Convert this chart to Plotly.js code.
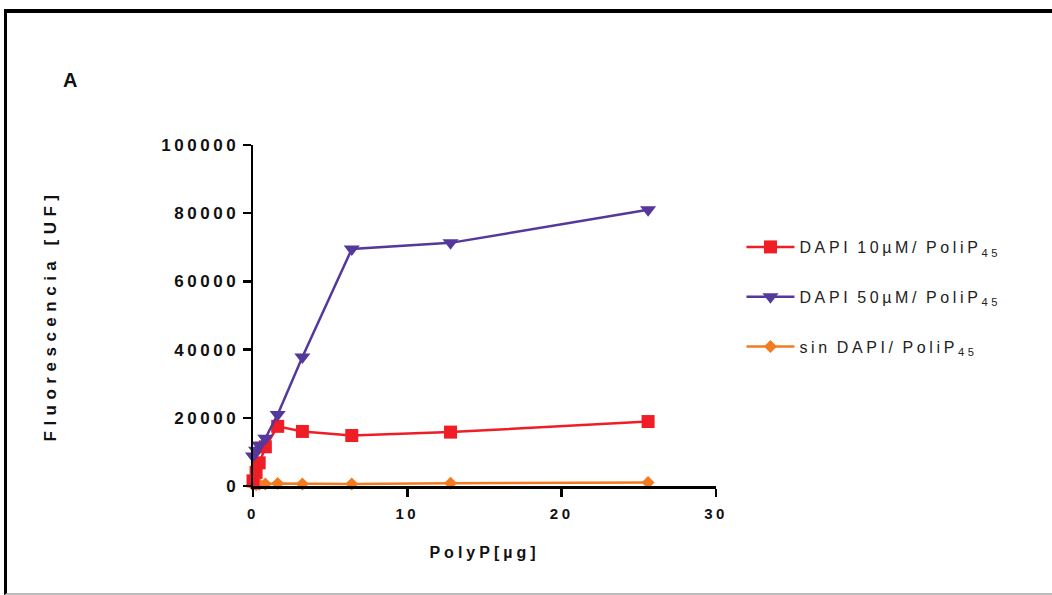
<!DOCTYPE html>
<html>
<head>
<meta charset="utf-8">
<script src="https://cdn.plot.ly/plotly-3.0.1.min.js"></script>
<style>
  html, body { margin:0; padding:0; background:#fff; }
  #wrap { position:relative; width:1052px; height:595px; overflow:hidden; }
  #chart { position:absolute; left:0; top:0; width:1052px; height:595px; }
  #frame { position:absolute; left:4px; top:9px; width:1100px; height:580px; border-top:4px solid #000; border-left:3px solid #000; border-bottom:2px solid #bbb; pointer-events:none; }
  #chart .xtick text, #chart .ytick text { letter-spacing:3.5px; }
  #chart .g-xtitle text { letter-spacing:4px; }
  #chart .g-ytitle text { letter-spacing:5.5px; }
  #chart text.legendtext { letter-spacing:3.6px; word-spacing:-2px; }
</style>
</head>
<body>
<div id="wrap">
<div id="chart"></div>
<div id="frame"></div>
</div>
<script>
const polyP = [0, 0.2, 0.4, 0.8, 1.6, 3.2, 6.4, 12.8, 25.6];
const dapi10 = [1500, 4000, 6800, 11500, 17500, 16000, 14800, 15800, 18900];
const dapi50 = [8800, 10500, 12000, 14000, 21000, 37800, 69500, 71300, 81000];
const sinDapi = [300, 400, 500, 600, 700, 600, 600, 800, 1000];
const names = ['DAPI 10µM/ PoliP<sub>45</sub>', 'DAPI 50µM/ PoliP<sub>45</sub>', 'sin DAPI/ PoliP<sub>45</sub>'];
const xTicks = [0, 10, 20, 30];
const yTicks = [0, 20000, 40000, 60000, 80000, 100000];

const font = 'Liberation Sans, Arial, sans-serif';
const traces = [
  {x: polyP, y: dapi10, name: names[0], mode: 'lines+markers', cliponaxis: false, legendgroup: 'g1', legendrank: 1,
   line: {color: '#ee1d26', width: 2.5}, marker: {symbol: 'square', size: 13, color: '#ee1d26'}},
  {x: polyP, y: dapi50, name: names[1], mode: 'lines+markers', cliponaxis: false, legendgroup: 'g2', legendrank: 2,
   line: {color: '#55389b', width: 2.5}, marker: {symbol: 'triangle-down', size: 14, color: '#55389b'}},
  {x: polyP, y: sinDapi, name: names[2], mode: 'lines+markers', cliponaxis: false, legendgroup: 'g3', legendrank: 3,
   line: {color: '#f47a22', width: 2.5}, marker: {symbol: 'diamond', size: 10, color: '#f47a22'}}
];
const order = [2, 0, 1].map(i => traces[i]);

const layout = {
  width: 1052, height: 595,
  margin: {l: 253, r: 336, t: 145, b: 109},
  paper_bgcolor: '#fff', plot_bgcolor: '#fff',
  showlegend: true,
  legend: {
    xref: 'paper', yref: 'paper', x: 1.055, xanchor: 'left', y: (486 - 230) / 341, yanchor: 'top',
    traceorder: 'grouped', tracegroupgap: 26, itemwidth: 48,
    font: {family: font, size: 16, color: '#222'}, bgcolor: 'rgba(0,0,0,0)'
  },
  xaxis: {
    range: [0, 30], tickvals: xTicks, ticktext: xTicks.map(String),
    showgrid: false, zeroline: false, showline: true, linecolor: '#000', linewidth: 2.5,
    ticks: 'outside', ticklen: 8, tickwidth: 2.5, tickcolor: '#000', ticklabelstandoff: 4,
    tickfont: {family: font, size: 15, color: '#111', weight: 'bold'},
    title: {text: 'PolyP[µg]', font: {family: font, size: 16, color: '#111', weight: 'bold'}, standoff: 27}
  },
  yaxis: {
    range: [0, 100000], tickvals: yTicks, ticktext: yTicks.map(String),
    showgrid: false, zeroline: false, showline: true, linecolor: '#000', linewidth: 2.5,
    ticks: 'outside', ticklen: 8, tickwidth: 2.5, tickcolor: '#000',
    tickfont: {family: font, size: 17, color: '#111', weight: 'bold'},
    title: {text: 'Fluorescencia [UF]', font: {family: font, size: 17, color: '#111', weight: 'bold'}, standoff: 122}
  },
  annotations: [
    {text: 'A', xref: 'paper', yref: 'paper', x: (70 - 253) / 463, y: (486 - 80) / 341, showarrow: false,
     xanchor: 'center', yanchor: 'middle', font: {family: font, size: 20, color: '#111', weight: 'bold'}}
  ]
};

function fixLegends() {
  document.querySelectorAll('#chart g').forEach(function (g) {
    var c = g.getAttribute('class') || '';
    if (/legend|scrollbox|groups|traces/.test(c)) g.removeAttribute('clip-path');
  });
}
const gd = document.getElementById('chart');
Plotly.newPlot(gd, order, layout, {displayModeBar: false, staticPlot: true}).then(function () {
  fixLegends();
  setTimeout(fixLegends, 50);
});
</script>
</body>
</html>
